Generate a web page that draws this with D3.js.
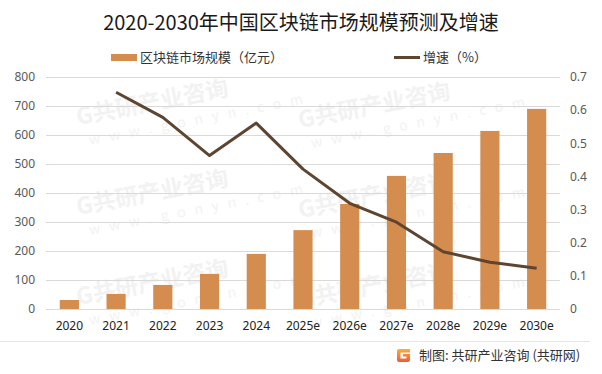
<!DOCTYPE html>
<html>
<head>
<meta charset="utf-8">
<script src="https://cdn.jsdelivr.net/npm/d3@7"></script>
<style>
  body { margin: 0; background: #fff; }
  svg { display: block; font-family: "Noto Sans CJK SC", "Noto Sans", sans-serif; }
</style>
</head>
<body>
<div id="chart"></div>
<script>
// data
var years = ["2020", "2021", "2022", "2023", "2024", "2025e", "2026e", "2027e", "2028e", "2029e", "2030e"];
var marketSize = [31, 52, 83, 121, 190, 272, 362, 459, 538, 614, 690];
var growth = [null, 0.654, 0.578, 0.463, 0.561, 0.422, 0.319, 0.262, 0.173, 0.141, 0.123];
var leftTicks = [0, 100, 200, 300, 400, 500, 600, 700, 800];
var rightTicks = [0, 0.1, 0.2, 0.3, 0.4, 0.5, 0.6, 0.7];

var svgWidth = 602;
var svgHeight = 374;
var plot = { left: 46, right: 560, top: 77, bottom: 309 };

var svg = d3.select("#chart")
  .append("svg")
  .attr("width", svgWidth)
  .attr("height", svgHeight);

// faint watermark tiles (only the ones fully inside the picture)
var wm = svg.append("g").attr("fill", "#f2f2f2");
var wmSpots = [[78, 125], [78, 215], [78, 305], [300, 128], [300, 218], [300, 308]];
wmSpots.forEach(function(p) {
  var g = wm.append("g")
    .attr("transform", `translate(${p[0]}, ${p[1]}) rotate(-11)`);
  g.append("text")
    .attr("font-size", 23)
    .attr("font-weight", "bold")
    .text("G共研产业咨询");
  g.append("text")
    .attr("x", 8)
    .attr("y", 22)
    .attr("font-size", 14)
    .attr("letter-spacing", 9)
    .text("www.gonyn.com");
});

var x = d3.scaleBand()
  .domain(years)
  .range([plot.left, plot.right])
  .paddingInner(0.59)
  .paddingOuter(0.295);

var yLeft = d3.scaleLinear().domain([0, 800]).range([plot.bottom, plot.top]);
var yRight = d3.scaleLinear().domain([0, 0.7]).range([plot.bottom, plot.top]);

// gridlines
svg.append("g")
  .selectAll("line")
  .data(leftTicks)
  .enter()
  .append("line")
  .attr("x1", plot.left)
  .attr("x2", plot.right)
  .attr("y1", d => Math.round(yLeft(d)) + 0.5)
  .attr("y2", d => Math.round(yLeft(d)) + 0.5)
  .attr("stroke", "#d9d9d9")
  .attr("stroke-width", 1);

// left axis
var leftAxis = d3.axisLeft(yLeft).tickValues(leftTicks).tickSize(0).tickPadding(0);
var gLeft = svg.append("g")
  .attr("transform", "translate(35, 0)")
  .call(leftAxis);
gLeft.select(".domain").remove();
gLeft.selectAll("text")
  .attr("font-size", 12)
  .attr("fill", "#595959")
  .attr("font-family", "\"Noto Sans\", sans-serif");

// right axis
var rightAxis = d3.axisRight(yRight).tickValues(rightTicks).tickSize(0).tickPadding(0)
  .tickFormat(d => d === 0 ? "0" : d3.format(".1f")(d));
var gRight = svg.append("g")
  .attr("transform", "translate(570, 0)")
  .call(rightAxis);
gRight.select(".domain").remove();
gRight.selectAll("text")
  .attr("font-size", 12)
  .attr("fill", "#595959")
  .attr("font-family", "\"Noto Sans\", sans-serif");

// x axis
var bottomAxis = d3.axisBottom(x).tickSize(0).tickPadding(0);
var gBottom = svg.append("g")
  .attr("transform", `translate(0, ${plot.bottom + 12})`)
  .call(bottomAxis);
gBottom.select(".domain").remove();
gBottom.selectAll("text")
  .attr("font-size", 12)
  .attr("fill", "#222")
  .attr("font-family", "\"Noto Sans\", sans-serif");

// bars
svg.append("g")
  .selectAll("rect")
  .data(years)
  .enter()
  .append("rect")
  .attr("x", d => x(d))
  .attr("width", x.bandwidth())
  .attr("y", (d, i) => yLeft(marketSize[i]))
  .attr("height", (d, i) => plot.bottom - yLeft(marketSize[i]))
  .attr("fill", "#d48d4f");

// growth line
var lineData = years.map((d, i) => ({ year: d, v: growth[i] })).filter(d => d.v !== null);
var line = d3.line()
  .x(d => x(d.year) + x.bandwidth() / 2)
  .y(d => yRight(d.v));
svg.append("path")
  .datum(lineData)
  .attr("d", line)
  .attr("fill", "none")
  .attr("stroke", "#5e4530")
  .attr("stroke-width", 3)
  .attr("stroke-linejoin", "round");

// title
svg.append("text")
  .attr("x", 301)
  .attr("y", 30)
  .attr("text-anchor", "middle")
  .attr("font-size", 20)
  .attr("fill", "#1a1a1a")
  .text("2020-2030年中国区块链市场规模预测及增速");

// legend
svg.append("rect")
  .attr("x", 111).attr("y", 54)
  .attr("width", 26).attr("height", 7)
  .attr("fill", "#d48d4f");
svg.append("text")
  .attr("x", 140).attr("y", 62)
  .attr("font-size", 13)
  .attr("fill", "#333")
  .text("区块链市场规模（亿元）");
svg.append("line")
  .attr("x1", 394).attr("x2", 420)
  .attr("y1", 57.5).attr("y2", 57.5)
  .attr("stroke", "#5e4530")
  .attr("stroke-width", 3);
svg.append("text")
  .attr("x", 423).attr("y", 62)
  .attr("font-size", 13)
  .attr("fill", "#333")
  .text("增速（%）");

// footer
svg.append("line")
  .attr("x1", 0).attr("x2", 590)
  .attr("y1", 341.5).attr("y2", 341.5)
  .attr("stroke", "#e6e6e6");

var grad = svg.append("defs").append("linearGradient")
  .attr("id", "logoGrad")
  .attr("x1", 0).attr("y1", 0).attr("x2", 0).attr("y2", 1);
grad.append("stop").attr("offset", "0%").attr("stop-color", "#f7b03c");
grad.append("stop").attr("offset", "100%").attr("stop-color", "#ef5a3a");
var logo = svg.append("g").attr("transform", "translate(397, 349)");
logo.append("path")
  .attr("d", "M0,2 Q0,0 2,0 L13,0 L13,3.5 L3.5,3.5 L3.5,9.5 L9.5,9.5 L9.5,7.5 L6,7.5 L6,5 L13,5 L13,11 Q13,13 11,13 L2,13 Q0,13 0,11 Z")
  .attr("fill", "url(#logoGrad)");

svg.append("text")
  .attr("x", 419).attr("y", 360)
  .attr("font-size", 13)
  .attr("fill", "#333")
  .text("制图: 共研产业咨询 (共研网)");
</script>
</body>
</html>
